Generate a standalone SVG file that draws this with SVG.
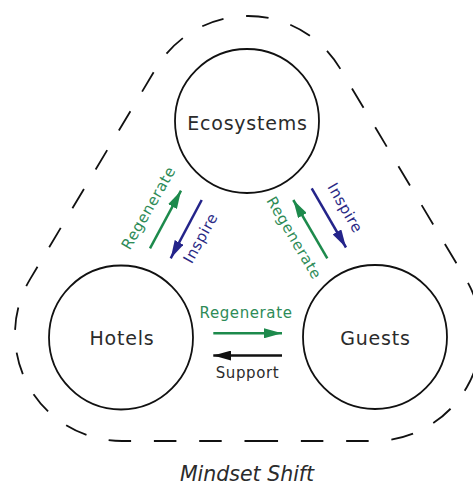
<svg xmlns="http://www.w3.org/2000/svg" width="473" height="485" viewBox="0 0 473 485">
<style>
.node{fill:#fff;stroke:#111;stroke-width:1.8}
.ntext{font-family:"DejaVu Sans","Liberation Sans",sans-serif;font-size:19px;fill:#2b2b2b;text-anchor:middle;letter-spacing:0.8px}
.lbl{font-family:"DejaVu Sans","Liberation Sans",sans-serif;font-size:15px;text-anchor:middle;letter-spacing:0.6px}
.g{fill:#2e8b57}
.b{fill:#2a2a85}
.k{fill:#2b2b2b}
.edge{fill:none;stroke-width:2.5}
.eg{stroke:#1d8a4c}
.eb{stroke:#24248a}
.ek{stroke:#111}
.outline{fill:none;stroke:#111;stroke-width:1.8;stroke-dasharray:22.5 22.8}
</style>
<defs>
<marker id="ahg" markerUnits="userSpaceOnUse" markerWidth="18" markerHeight="10" refX="18" refY="5" orient="auto"><path d="M0,0 L18,5 L0,10 Z" fill="#1d8a4c"/></marker>
<marker id="ahb" markerUnits="userSpaceOnUse" markerWidth="18" markerHeight="10" refX="18" refY="5" orient="auto"><path d="M0,0 L18,5 L0,10 Z" fill="#24248a"/></marker>
<marker id="ahk" markerUnits="userSpaceOnUse" markerWidth="18" markerHeight="10" refX="18" refY="5" orient="auto"><path d="M0,0 L18,5 L0,10 Z" fill="#111"/></marker>
</defs>
<rect width="473" height="485" fill="#fff"/>
<g id="mindset-shift">
<path class="outline" d="M 267,441 L 122,441 A 107,107 0 0 1 30.13,279.14 L 156.13,68.14 A 107,107 0 0 1 339.87,68.14 L 465.87,279.14 A 107,107 0 0 1 374,441 Z"/>
<text x="247" y="481" font-family="DejaVu Sans, Liberation Sans, sans-serif" font-size="20.5" font-style="italic" fill="#2b2b2b" text-anchor="middle">Mindset Shift</text>
</g>
<g id="ecosystems">
<circle class="node" cx="247" cy="121" r="72"/>
<text class="ntext" x="247.5" y="129.5">Ecosystems</text>
</g>
<g id="hotels">
<circle class="node" cx="121" cy="337.5" r="72"/>
<text class="ntext" x="122" y="345">Hotels</text>
</g>
<g id="guests">
<circle class="node" cx="375" cy="337" r="72"/>
<text class="ntext" x="375.5" y="345">Guests</text>
</g>
<g id="connectors">
<line class="edge eg" x1="150" y1="248.3" x2="181" y2="190.7" marker-end="url(#ahg)"/>
<line class="edge eb" x1="201.7" y1="200" x2="170.7" y2="258.3" marker-end="url(#ahb)"/>
<line class="edge eg" x1="327.3" y1="258.3" x2="293.3" y2="200" marker-end="url(#ahg)"/>
<line class="edge eb" x1="311.7" y1="188.3" x2="346" y2="247.5" marker-end="url(#ahb)"/>
<line class="edge eg" x1="213.3" y1="333.3" x2="282" y2="333.3" marker-end="url(#ahg)"/>
<line class="edge ek" x1="282" y1="355.5" x2="213.3" y2="355.5" marker-end="url(#ahk)"/>
</g>
<g id="labels">
<text class="lbl g" transform="translate(153,210.5) rotate(-60)">Regenerate</text>
<text class="lbl b" transform="translate(205,240.5) rotate(-61)">Inspire</text>
<text class="lbl g" transform="translate(289.7,240.5) rotate(59.5)">Regenerate</text>
<text class="lbl b" transform="translate(340.7,210.5) rotate(60)">Inspire</text>
<text class="lbl g" x="246" y="318">Regenerate</text>
<text class="lbl k" x="247.5" y="377.5">Support</text>
</g>
</svg>
